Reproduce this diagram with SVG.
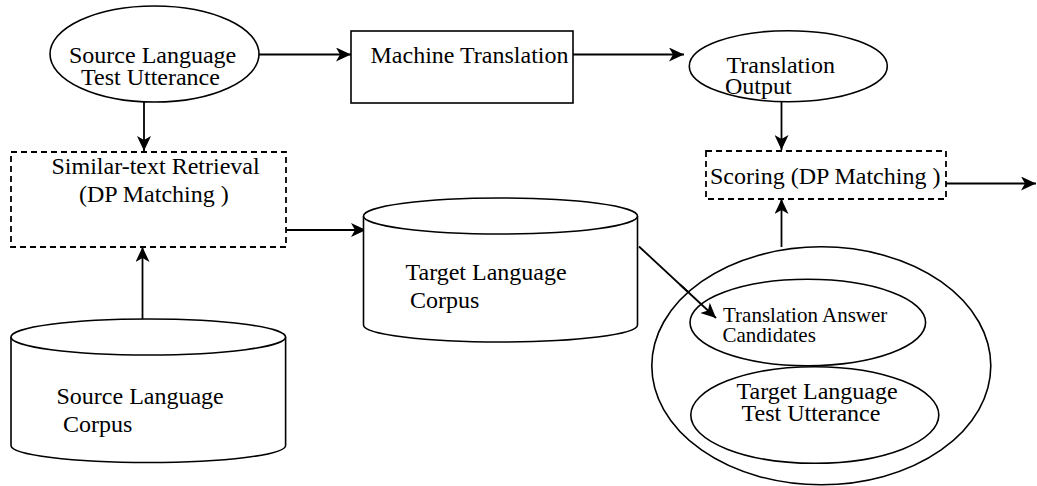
<svg xmlns="http://www.w3.org/2000/svg" width="1037" height="486" viewBox="0 0 1037 486">
  <style>
    .shape { fill: #ffffff; stroke: #000000; stroke-width: 1.6; }
    .dashed { fill: #ffffff; stroke: #000000; stroke-width: 1.8; stroke-dasharray: 6 4; }
    .label { font-family: "Liberation Serif", "Times New Roman", serif; font-size: 24px; fill: #000000; }
    .small { font-size: 21px; }
    .edge { fill: none; stroke: #000000; stroke-width: 1.8; marker-end: url(#arrow); }
  </style>
  <defs>
    <marker id="arrow" viewBox="0 0 15 14" markerWidth="15" markerHeight="14" refX="15" refY="7" orient="auto" markerUnits="userSpaceOnUse">
      <path d="M0,0 L15,7 L0,14 L4,7 Z" fill="#000000"/>
    </marker>
  </defs>

  <rect width="1037" height="486" fill="#ffffff"/>

  <!-- connectors -->
  <g id="connectors">
    <line class="edge" x1="259" y1="54.5" x2="351" y2="54.5"/>
    <line class="edge" x1="573" y1="54.5" x2="684" y2="54.5"/>
    <line class="edge" x1="144" y1="102" x2="144" y2="151"/>
    <line class="edge" x1="142.5" y1="319" x2="142.5" y2="247"/>
    <line class="edge" x1="286" y1="230" x2="366" y2="230"/>
    <line class="edge" x1="781.5" y1="102" x2="781.5" y2="150"/>
    <line class="edge" x1="781.5" y1="247" x2="781.5" y2="199"/>
    <line class="edge" x1="946" y1="183.5" x2="1036" y2="183.5"/>
    <line class="edge" x1="639" y1="246.5" x2="716" y2="318"/>
  </g>

  <!-- source test utterance -->
  <g id="source-utterance">
    <ellipse class="shape" cx="154.5" cy="54" rx="104.5" ry="48"/>
    <text class="label"><tspan x="69" y="63">Source Language</tspan><tspan x="81" y="85">Test Utterance</tspan></text>
  </g>

  <!-- machine translation -->
  <g id="machine-translation">
    <rect class="shape" x="351" y="31" width="222" height="72"/>
    <text class="label" x="370.5" y="63">Machine Translation</text>
  </g>

  <!-- translation output -->
  <g id="translation-output">
    <ellipse class="shape" cx="788.3" cy="66.2" rx="99" ry="35.5"/>
    <text class="label"><tspan x="726.5" y="73">Translation</tspan><tspan x="725" y="94">Output</tspan></text>
  </g>

  <!-- similar-text retrieval -->
  <g id="similar-text-retrieval">
    <rect class="dashed" x="11" y="152" width="275" height="95"/>
    <text class="label"><tspan x="51.5" y="174">Similar-text Retrieval</tspan><tspan x="79" y="201.5">(DP Matching )</tspan></text>
  </g>

  <!-- scoring -->
  <g id="scoring">
    <rect class="dashed" x="706" y="151" width="240" height="48"/>
    <text class="label" x="710" y="183.5">Scoring (DP Matching )</text>
  </g>

  <!-- target language corpus -->
  <g id="target-corpus">
    <path class="shape" d="M363.5,216 V325 A137,17 0 0 0 637.5,325 V216"/>
    <ellipse class="shape" cx="500.5" cy="216" rx="137" ry="18"/>
    <text class="label"><tspan x="405.5" y="279.5">Target Language</tspan><tspan x="410" y="307.5">Corpus</tspan></text>
  </g>

  <!-- source language corpus -->
  <g id="source-corpus">
    <path class="shape" d="M11,337 V445.5 A137.3,17 0 0 0 285.6,445.5 V337"/>
    <ellipse class="shape" cx="148.3" cy="337" rx="137.3" ry="18"/>
    <text class="label"><tspan x="56.5" y="403.5">Source Language</tspan><tspan x="63" y="431.5">Corpus</tspan></text>
  </g>

  <!-- answer set -->
  <g id="answer-set">
    <ellipse class="shape" cx="821.3" cy="365.8" rx="169.5" ry="119"/>
  </g>

  <g id="answer-candidates">
    <ellipse class="shape" cx="807.8" cy="322.5" rx="117.8" ry="43.2"/>
    <text class="label small"><tspan x="723" y="321.5">Translation Answer</tspan><tspan x="722.5" y="342">Candidates</tspan></text>
  </g>

  <g id="target-utterance">
    <ellipse class="shape" cx="814.8" cy="415" rx="124" ry="48.3"/>
    <text class="label"><tspan x="736.5" y="399">Target Language</tspan><tspan x="741.5" y="420.5">Test Utterance</tspan></text>
  </g>

  <!-- diagonal arrow drawn over the answer set outline -->
  <line class="edge" x1="680" y1="284.5" x2="716" y2="318"/>
</svg>
